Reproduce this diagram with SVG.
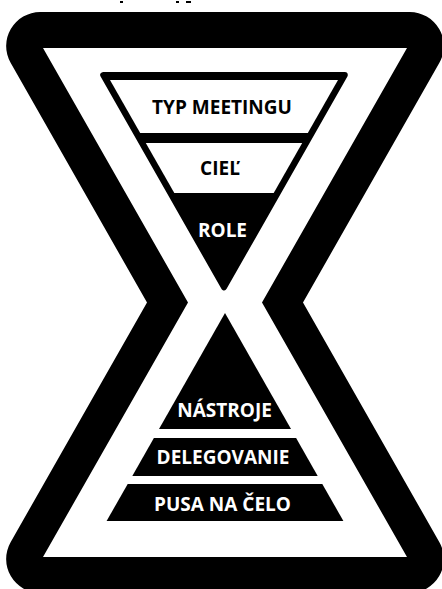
<svg xmlns="http://www.w3.org/2000/svg" width="442" height="589" viewBox="0 0 442 589">
  <style>
    .lbl { font-family: "Open Sans", "Noto Sans", "Liberation Sans", sans-serif; font-weight: 700; font-size: 19px; text-anchor: middle; }
    .dark { fill: #000; }
    .light { fill: #fff; }
  </style>
  <rect x="0" y="0" width="442" height="589" fill="#fff"/>
  <g id="top-fragments" fill="#000">
    <rect x="120" y="1" width="3" height="2"/>
    <rect x="176" y="1" width="3" height="2"/>
    <rect x="186" y="1" width="5" height="2"/>
  </g>
  <g id="hourglass-frame">
    <path fill="#000" fill-rule="evenodd" d="M 40.2 12 L 409.8 12 A 34 34 0 0 1 439.4 62.8 L 303 302.5 L 439.4 542.2 A 34 34 0 0 1 409.8 593 L 40.2 593 A 34 34 0 0 1 10.6 542.2 L 147 302.5 L 10.6 62.8 A 34 34 0 0 1 40.2 12 Z M 43 48 L 407 48 L 262 302.5 L 407 557 L 43 557 L 188 302.5 Z"/>
  </g>
  <g id="funnel">
    <polygon points="103.2,75 344.8,75 224,287.3" fill="#000" stroke="#000" stroke-width="6" stroke-linejoin="round"/>
    <g id="typ-meetingu">
      <polygon points="110,80 338,80 307.8,133 140.2,133" fill="#fff"/>
      <text class="lbl dark" x="222" y="114">TYP MEETINGU</text>
    </g>
    <g id="ciel">
      <polygon points="145.8,143 302.2,143 273.7,193 174.3,193" fill="#fff"/>
      <text class="lbl dark" x="220" y="175">CIEĽ</text>
    </g>
    <g id="role">
      <text class="lbl light" x="222.5" y="237">ROLE</text>
    </g>
  </g>
  <g id="pyramid">
    <g id="nastroje">
      <polygon points="225,313 291,429 159,429" fill="#000"/>
      <text class="lbl light" x="224.5" y="417">NÁSTROJE</text>
    </g>
    <g id="delegovanie">
      <polygon points="153.9,438 296.1,438 317.7,476 132.3,476" fill="#000"/>
      <text class="lbl light" x="223" y="464">DELEGOVANIE</text>
    </g>
    <g id="pusa-na-celo">
      <polygon points="127.7,484 322.3,484 343.4,521 106.6,521" fill="#000"/>
      <text class="lbl light" x="222.5" y="511">PUSA NA ČELO</text>
    </g>
  </g>
  <g id="connectors"/>
</svg>
